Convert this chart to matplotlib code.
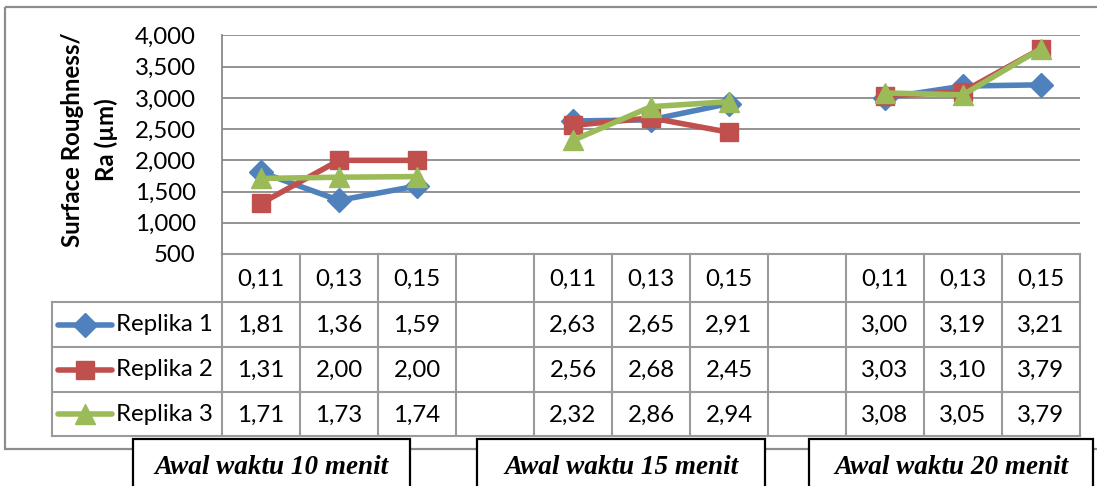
import matplotlib
matplotlib.use("Agg")
import matplotlib.pyplot as plt
from matplotlib.lines import Line2D
from matplotlib.patches import Rectangle

# Feed values per group (table header) and roughness per replica
feeds = [0.11, 0.13, 0.15]
groups = ["Awal waktu 10 menit", "Awal waktu 15 menit", "Awal waktu 20 menit"]
replika_1 = [1.81, 1.36, 1.59, 2.63, 2.65, 2.91, 3.00, 3.19, 3.21]
replika_2 = [1.31, 2.00, 2.00, 2.56, 2.68, 2.45, 3.03, 3.10, 3.79]
replika_3 = [1.71, 1.73, 1.74, 2.32, 2.86, 2.94, 3.08, 3.05, 3.79]
series_names = ["Replika 1", "Replika 2", "Replika 3"]
y_ticks = [0.5, 1.0, 1.5, 2.0, 2.5, 3.0, 3.5, 4.0]
y_tick_labels = ["500", "1,000", "1,500", "2,000", "2,500", "3,000", "3,500", "4,000"]

colors = ["#4F81BD", "#C0504D", "#9BBB59"]
markers = ["D", "s", "^"]
msizes = [12, 12.5, 14]
series = [replika_1, replika_2, replika_3]

W, H = 1097, 486
font = "Lato"
fs = 17.3
grid_gray = "#8a8a8a"

fig = plt.figure(figsize=(W / 100, H / 100), dpi=100)

# pixel-space overlay for borders, table and captions
bg = fig.add_axes([0, 0, 1, 1])
bg.set_xlim(0, W)
bg.set_ylim(H, 0)
bg.axis("off")

# plot area geometry (pixels)
px_left, px_right = 222, 1080
px_top, px_bottom = 35.5, 254
n_cols = 11
col_w = (px_right - px_left) / n_cols

ax = fig.add_axes([px_left / W, 1 - px_bottom / H,
                   (px_right - px_left) / W, (px_bottom - px_top) / H])
ax.set_xlim(-0.5, n_cols - 0.5)
ax.set_ylim(0.5, 4.0)
ax.patch.set_alpha(0)
for s in ["top", "right", "bottom"]:
    ax.spines[s].set_visible(False)
ax.spines["left"].set_color(grid_gray)
ax.spines["left"].set_linewidth(1.3)
ax.set_xticks([])
ax.set_yticks(y_ticks)
ax.set_yticklabels(y_tick_labels, fontsize=fs, fontfamily=font)
ax.tick_params(axis="y", length=0, pad=19)
for y in y_ticks[1:]:
    ax.axhline(y, color=grid_gray, lw=1.3, zorder=1)

# x positions: three groups of three with an empty column between
x_pos = [0, 1, 2, 4, 5, 6, 8, 9, 10]
for vals, c, m, ms in zip(series, colors, markers, msizes):
    for g in range(3):
        xs = x_pos[g * 3:g * 3 + 3]
        ys = vals[g * 3:g * 3 + 3]
        ax.plot(xs, ys, color=c, lw=4, marker=m, ms=ms, zorder=3)

# y-axis title
bg.text(73, 140, "Surface Roughness/", rotation=90, ha="center", va="center",
        fontsize=17.3, fontweight="bold", fontfamily=font)
bg.text(106, 140, "Ra (µm)", rotation=90, ha="center", va="center",
        fontsize=17.3, fontweight="bold", fontfamily=font)

# outer chart border
bg.add_patch(Rectangle((5, 7), 1100, 442, fill=False, ec="#8c8c8c", lw=1.6))

# data table
tbl_gray = "#9a9a9a"
row_y = [254, 302, 347, 392, 436]
leg_left = 52
col_x = [px_left + i * col_w for i in range(n_cols + 1)]
bg.plot([px_left, px_right], [row_y[0], row_y[0]], color=tbl_gray, lw=1.5)
for y in row_y[1:]:
    bg.plot([leg_left, px_right], [y, y], color=tbl_gray, lw=1.5)
for x in col_x:
    bg.plot([x, x], [row_y[0], row_y[-1]], color=tbl_gray, lw=1.5)
bg.plot([leg_left, leg_left], [row_y[1], row_y[-1]], color=tbl_gray, lw=1.5)

def fmt(v):
    return f"{v:.2f}".replace(".", ",")

for g in range(3):
    for k in range(3):
        xc = px_left + (x_pos[g * 3 + k] + 0.5) * col_w
        bg.text(xc, (row_y[0] + row_y[1]) / 2 + 1, fmt(feeds[k]), ha="center",
                va="center", fontsize=fs, fontfamily=font)
        for r, vals in enumerate(series):
            yc = (row_y[r + 1] + row_y[r + 2]) / 2 + 1
            bg.text(xc, yc, fmt(vals[g * 3 + k]), ha="center", va="center",
                    fontsize=fs, fontfamily=font)

# legend keys inside the table
for r, (name, c, m, ms) in enumerate(zip(series_names, colors, markers, msizes)):
    yc = (row_y[r + 1] + row_y[r + 2]) / 2
    bg.add_line(Line2D([58, 112], [yc, yc], color=c, lw=4, solid_capstyle="round"))
    bg.add_line(Line2D([85], [yc], color=c, marker=m, ms=ms, lw=0))
    bg.text(116, yc, name, ha="left", va="center", fontsize=fs, fontfamily=font)

# group caption boxes
boxes = [(133, 410), (477, 765), (809, 1093)]
for (x0, x1), label in zip(boxes, groups):
    bg.add_patch(Rectangle((x0, 439), x1 - x0, 60, fc="white", ec="black", lw=1.6,
                           zorder=5))
    bg.text((x0 + x1) / 2, 467, label, ha="center", va="center", fontsize=19.5,
            fontweight="bold", fontstyle="italic", fontfamily="Liberation Serif",
            zorder=6)

fig.savefig("out.png", dpi=100)
